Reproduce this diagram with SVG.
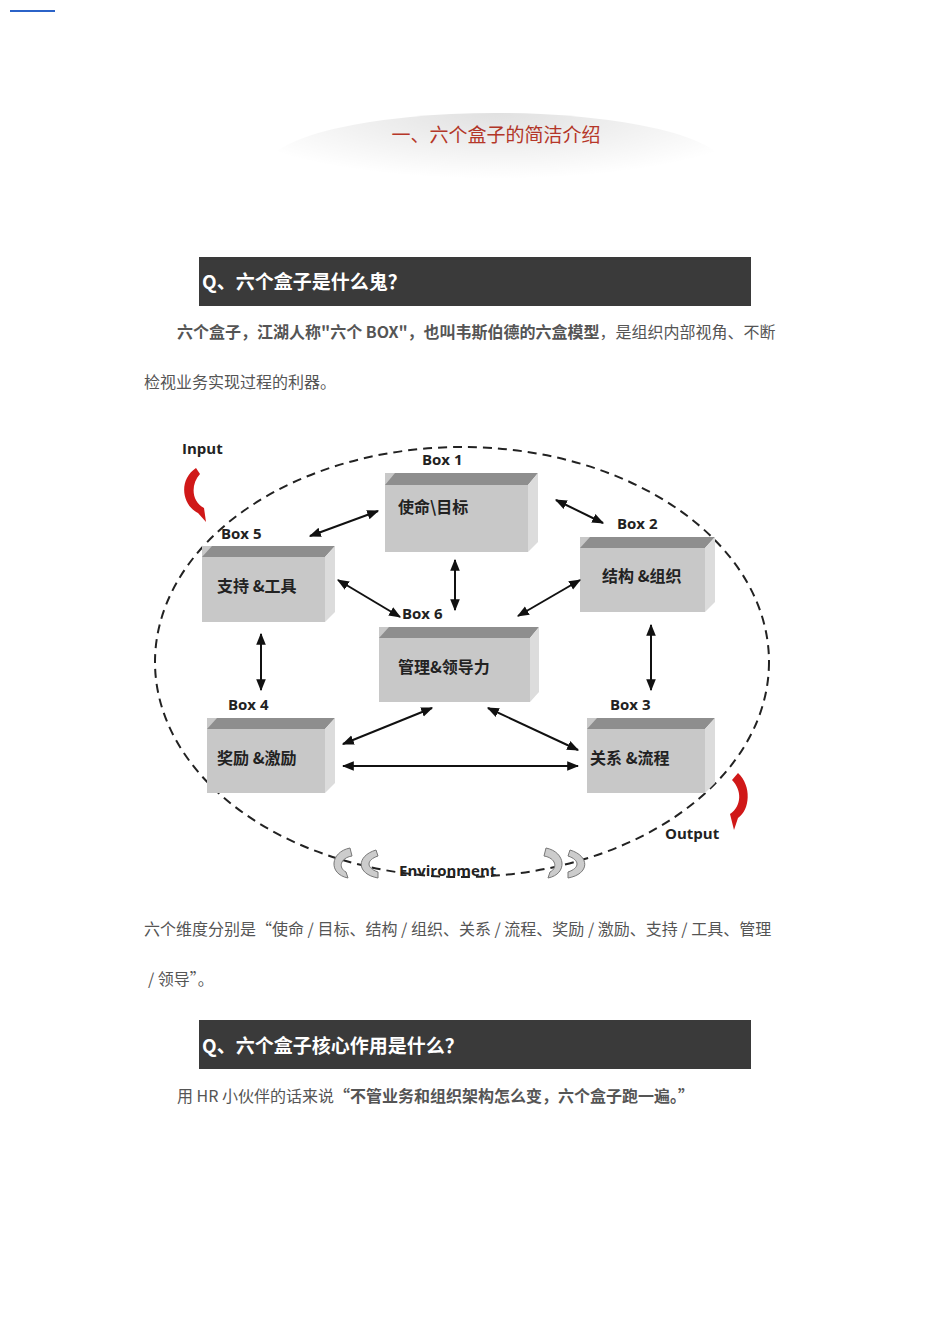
<svg xmlns="http://www.w3.org/2000/svg" width="950" height="1344" viewBox="0 0 950 1344">
<defs>
<style>
.t{font-family:"Noto Sans CJK SC","Noto Sans",sans-serif}
.bx{fill:#c8c8c8}.tp{fill:#8e8e8e}.sd{fill:#dcdcdc}
.bl{font-family:"Noto Sans CJK SC",sans-serif;font-weight:bold;font-size:16px;fill:#222}
.lb{font-family:"Open Sans","Noto Sans",sans-serif;font-weight:bold;font-size:15px;fill:#222}
.ar{stroke:#111;stroke-width:2;fill:none;marker-start:url(#a);marker-end:url(#a)}
.p{font-size:16px;fill:#555}
</style>
<marker id="a" viewBox="0 0 10 10" refX="9" refY="5" markerWidth="6" markerHeight="6" orient="auto-start-reverse"><path d="M0,1L10,5L0,9z" fill="#111"/></marker>
<radialGradient id="sh" cx="0.5" cy="0" r="0.6"><stop offset="0" stop-color="#000" stop-opacity="0.12"/><stop offset="1" stop-color="#000" stop-opacity="0"/></radialGradient>
</defs>
<rect width="950" height="1344" fill="#fff"/>
<line x1="10" y1="11" x2="55" y2="11" stroke="#2b63c8" stroke-width="2"/>
<text class="t" x="496" y="142" text-anchor="middle" font-size="19" fill="#c23a2b">一、六个盒子的简洁介绍</text>
<ellipse cx="496" cy="168" rx="230" ry="55" fill="url(#sh)"/>
<rect x="199" y="257" width="552" height="49" fill="#3a3a3a"/>
<text class="t" x="202" y="289" font-size="19" font-weight="bold" fill="#fff">Q、六个盒子是什么鬼？</text>
<text class="t p" x="177" y="338"><tspan font-weight="bold">六个盒子，江湖人称"六个 BOX"，也叫韦斯伯德的六盒模型</tspan>，是组织内部视角、不断</text>
<text class="t p" x="144" y="388">检视业务实现过程的利器。</text>

<ellipse cx="462" cy="662" rx="307" ry="215" fill="none" stroke="#222" stroke-width="2" stroke-dasharray="9,6"/>

<g id="box1"><rect class="bx" x="385" y="473" width="143" height="79"/><polygon class="tp" points="385,485 395,473 538,473 528,485"/><polygon class="sd" points="528,485 538,473 538,542 528,552"/><text class="bl" x="398" y="513">使命\目标</text></g>
<g id="box5"><rect class="bx" x="202" y="546" width="123" height="76"/><polygon class="tp" points="202,557 212,546 335,546 325,557"/><polygon class="sd" points="325,557 335,546 335,612 325,622"/><text class="bl" x="217" y="592">支持 &amp;工具</text></g>
<g id="box2"><rect class="bx" x="580" y="537" width="125" height="75"/><polygon class="tp" points="580,548 590,537 715,537 705,548"/><polygon class="sd" points="705,548 715,537 715,602 705,612"/><text class="bl" x="602" y="582">结构 &amp;组织</text></g>
<g id="box6"><rect class="bx" x="379" y="627" width="151" height="75"/><polygon class="tp" points="379,638 389,627 539,627 530,638"/><polygon class="sd" points="530,638 539,627 539,692 530,702"/><text class="bl" x="398" y="673">管理&amp;领导力</text></g>
<g id="box4"><rect class="bx" x="207" y="718" width="118" height="75"/><polygon class="tp" points="207,729 217,718 335,718 325,729"/><polygon class="sd" points="325,729 335,718 335,783 325,793"/><text class="bl" x="217" y="764">奖励 &amp;激励</text></g>
<g id="box3"><rect class="bx" x="587" y="718" width="118" height="75"/><polygon class="tp" points="587,729 597,718 715,718 705,729"/><polygon class="sd" points="705,729 715,718 715,783 705,793"/><text class="bl" x="590" y="764">关系 &amp;流程</text></g>

<g id="labels">
<text class="lb" x="182" y="454">Input</text>
<text class="lb" x="422" y="465">Box 1</text>
<text class="lb" x="221" y="539">Box 5</text>
<text class="lb" x="617" y="529">Box 2</text>
<text class="lb" x="402" y="619">Box 6</text>
<text class="lb" x="228" y="710">Box 4</text>
<text class="lb" x="610" y="710">Box 3</text>
<text class="lb" x="665" y="839">Output</text>
<text class="lb" x="399" y="876">Environment</text>
</g>

<g id="connectors">
<line class="ar" x1="310" y1="536" x2="378" y2="511"/>
<line class="ar" x1="556" y1="500" x2="603" y2="523"/>
<line class="ar" x1="455" y1="560" x2="455" y2="610"/>
<line class="ar" x1="338" y1="580" x2="400" y2="617"/>
<line class="ar" x1="518" y1="616" x2="580" y2="580"/>
<line class="ar" x1="261" y1="634" x2="261" y2="690"/>
<line class="ar" x1="651" y1="625" x2="651" y2="690"/>
<line class="ar" x1="343" y1="744" x2="432" y2="708"/>
<line class="ar" x1="488" y1="708" x2="578" y2="750"/>
<line class="ar" x1="343" y1="766" x2="578" y2="766"/>
</g>

<g id="io">
<path d="M196,468 C178,480 182,505 198,513 L206,522 L204,508 C192,502 190,485 200,474 Z" fill="#d01818"/>
<path d="M738,773 C752,786 750,810 738,818 L734,830 L730,814 C742,806 742,790 732,780 Z" fill="#d01818"/>
<g fill="#ccc" stroke="#777" stroke-width="1">
<path d="M350,848 C330,852 328,874 348,878 L346,872 C338,868 340,858 352,856 Z"/>
<path d="M376,850 C356,856 356,874 378,878 L378,872 C366,868 366,860 378,856 Z"/>
<path d="M546,848 C566,852 568,874 548,878 L550,872 C558,868 556,858 544,856 Z"/>
<path d="M570,850 C590,856 590,874 568,878 L568,872 C580,868 580,860 568,856 Z"/>
</g>
</g>

<text class="t p" x="144" y="935">六个维度分别是“使命 / 目标、结构 / 组织、关系 / 流程、奖励 / 激励、支持 / 工具、管理</text>
<text class="t p" x="148" y="985">/ 领导”。</text>
<rect x="199" y="1020" width="552" height="49" fill="#3a3a3a"/>
<text class="t" x="202" y="1053" font-size="19" font-weight="bold" fill="#fff">Q、六个盒子核心作用是什么？</text>
<text class="t p" x="177" y="1102">用 HR 小伙伴的话来说<tspan font-weight="bold">“不管业务和组织架构怎么变，六个盒子跑一遍。”</tspan></text>
</svg>
